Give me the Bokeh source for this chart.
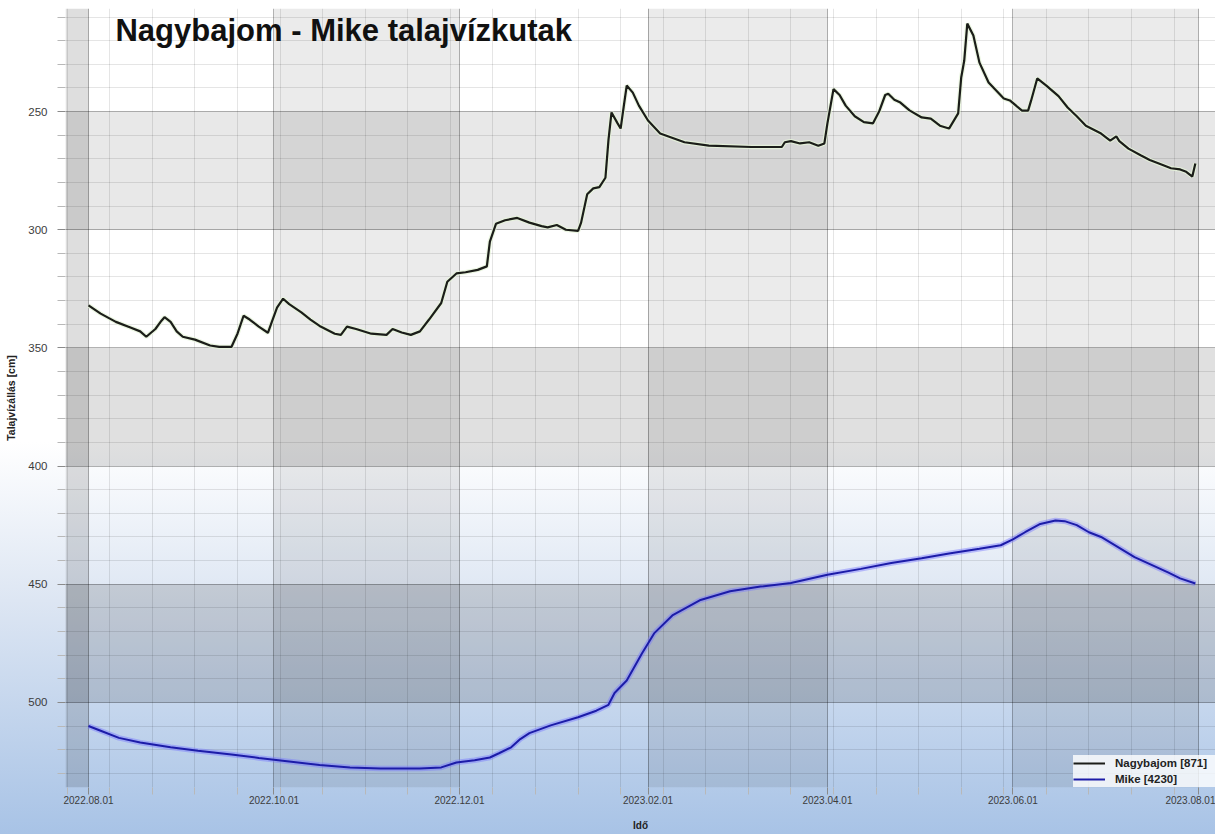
import pandas as pd
from bokeh.plotting import figure
from bokeh.models import (Range1d, FixedTicker, BoxAnnotation, Label, Legend,
                          LegendItem, DatetimeTickFormatter)
from bokeh.embed import file_html
from bokeh.resources import INLINE

title_text = "Nagybajom - Mike talajvízkutak"
y_label = "Talajvízállás [cm]"
x_label = "Idő"

nagy_name = "Nagybajom [871]"
nagy_dates = [
    "2022-08-01", "2022-08-05", "2022-08-10", "2022-08-15", "2022-08-18", "2022-08-20",
    "2022-08-23", "2022-08-25", "2022-08-26", "2022-08-28", "2022-08-30", "2022-09-01",
    "2022-09-05", "2022-09-10", "2022-09-13", "2022-09-17", "2022-09-19", "2022-09-21",
    "2022-09-23", "2022-09-26", "2022-09-29", "2022-09-30", "2022-10-02", "2022-10-04",
    "2022-10-06", "2022-10-10", "2022-10-13", "2022-10-16", "2022-10-21", "2022-10-23",
    "2022-10-25", "2022-10-28", "2022-11-02", "2022-11-07", "2022-11-09", "2022-11-12",
    "2022-11-15", "2022-11-18", "2022-11-21", "2022-11-25", "2022-11-27", "2022-11-30",
    "2022-12-03", "2022-12-07", "2022-12-10", "2022-12-11", "2022-12-13", "2022-12-16",
    "2022-12-20", "2022-12-24", "2022-12-28", "2022-12-30", "2023-01-02", "2023-01-05",
    "2023-01-09", "2023-01-10", "2023-01-12", "2023-01-14", "2023-01-16", "2023-01-18",
    "2023-01-19", "2023-01-20", "2023-01-22", "2023-01-23", "2023-01-24", "2023-01-25",
    "2023-01-27", "2023-01-29", "2023-02-01", "2023-02-05", "2023-02-13", "2023-02-21",
    "2023-03-07", "2023-03-17", "2023-03-18", "2023-03-20", "2023-03-23", "2023-03-26",
    "2023-03-29", "2023-03-31", "2023-04-01", "2023-04-03", "2023-04-05", "2023-04-07",
    "2023-04-10", "2023-04-13", "2023-04-16", "2023-04-18", "2023-04-20", "2023-04-21",
    "2023-04-23", "2023-04-25", "2023-04-28", "2023-05-02", "2023-05-05", "2023-05-08",
    "2023-05-11", "2023-05-14", "2023-05-15", "2023-05-16", "2023-05-17", "2023-05-19",
    "2023-05-21", "2023-05-24", "2023-05-29", "2023-05-31", "2023-06-04", "2023-06-06",
    "2023-06-07", "2023-06-09", "2023-06-12", "2023-06-16", "2023-06-19", "2023-06-22",
    "2023-06-25", "2023-06-30", "2023-07-03", "2023-07-05", "2023-07-06", "2023-07-09",
    "2023-07-13", "2023-07-16", "2023-07-19", "2023-07-23", "2023-07-26", "2023-07-28",
    "2023-07-30", "2023-07-31",
]
nagy_values = [
    332.0, 335.5, 339.0, 341.5, 343.0, 345.3,
    342.0, 338.5, 337.0, 339.0, 343.0, 345.3,
    346.5, 349.0, 349.6, 349.6, 344.0, 336.4,
    338.0, 341.0, 343.6, 340.0, 333.0, 329.2,
    331.5, 335.0, 338.0, 340.7, 344.0, 344.5,
    341.0, 342.0, 344.0, 344.5, 342.0, 343.5,
    344.5, 343.0, 338.0, 331.0, 322.0, 318.5,
    318.0, 317.0, 315.5, 305.0, 297.5, 296.0,
    295.0, 297.0, 298.5, 299.0, 298.0, 300.0,
    300.5, 297.0, 285.0, 282.5, 282.0, 278.0,
    262.0, 250.4, 255.0, 257.2, 248.0, 239.0,
    242.0, 247.5, 253.8, 259.3, 263.0, 264.4,
    265.0, 265.0, 263.0, 262.5, 263.5, 263.0,
    264.5, 263.5, 255.0, 240.5, 243.0, 247.5,
    252.0, 254.5, 255.0, 250.0, 243.0, 242.5,
    245.0, 246.2, 249.5, 252.5, 253.0, 256.0,
    257.2, 250.8, 235.6, 228.4, 212.8, 217.8,
    229.3, 237.7, 244.5, 245.3, 249.6, 249.6,
    245.3, 236.0, 239.0, 243.5, 248.3, 252.0,
    256.0, 259.3, 262.3, 260.5, 262.5, 265.7,
    268.5, 270.5, 272.0, 274.0, 274.5, 275.5,
    277.5, 272.0,
]

mike_name = "Mike [4230]"
mike_dates = [
    "2022-08-01", "2022-08-05", "2022-08-11", "2022-08-18", "2022-08-28", "2022-09-06",
    "2022-09-17", "2022-09-26", "2022-10-06", "2022-10-16", "2022-10-26", "2022-11-05",
    "2022-11-18", "2022-11-25", "2022-11-30", "2022-12-06", "2022-12-11", "2022-12-14",
    "2022-12-18", "2022-12-21", "2022-12-24", "2022-12-31", "2023-01-09", "2023-01-15",
    "2023-01-19", "2023-01-21", "2023-01-25", "2023-01-30", "2023-02-03", "2023-02-09",
    "2023-02-18", "2023-02-28", "2023-03-10", "2023-03-20", "2023-04-01", "2023-04-12",
    "2023-04-22", "2023-05-02", "2023-05-11", "2023-05-21", "2023-05-28", "2023-06-01",
    "2023-06-05", "2023-06-10", "2023-06-15", "2023-06-18", "2023-06-22", "2023-06-26",
    "2023-06-30", "2023-07-11", "2023-07-22", "2023-07-26", "2023-07-31",
]
mike_values = [
    510.0, 512.0, 515.0, 517.0, 519.0, 520.5,
    522.0, 523.5, 525.0, 526.5, 527.5, 528.0,
    528.0, 527.5, 525.4, 524.5, 523.3, 521.5,
    519.0, 515.5, 513.0, 509.7, 506.3, 503.5,
    501.0, 496.0, 490.7, 479.3, 470.8, 463.2,
    456.8, 453.0, 451.0, 449.5, 446.0, 443.5,
    441.0, 439.0, 437.0, 435.0, 433.5, 431.0,
    428.0, 424.5, 423.0, 423.3, 425.0, 428.0,
    430.0, 438.5, 445.0, 447.5, 449.7,
]

x_tick_dates = ["2022-08-01", "2022-10-01", "2022-12-01", "2023-02-01",
                "2023-04-01", "2023-06-01", "2023-08-01"]
x_tick_labels = ["2022.08.01", "2022.10.01", "2022.12.01", "2023.02.01",
                 "2023.04.01", "2023.06.01", "2023.08.01"]
y_ticks = [250, 300, 350, 400, 450, 500]
y_minor_ticks = [210, 220, 230, 240, 260, 270, 280, 290, 310, 320, 330, 340,
                 360, 370, 380, 390, 410, 420, 430, 440, 460, 470, 480, 490,
                 510, 520, 530]


def ms(d):
    return pd.Timestamp(d).value / 1e6


x_major = [ms(d) for d in x_tick_dates]
x_minor = [ms(d) for d in pd.date_range("2022-07-25", "2023-08-07", freq="14D")]

p = figure(width=1215, height=834, output_backend="svg", toolbar_location=None,
           x_axis_type="datetime",
           x_range=Range1d(pd.Timestamp("2022-07-24 10:30"), pd.Timestamp("2023-08-06 15:00")),
           y_range=Range1d(536.0, 206.4),
           min_border_left=65, min_border_right=0, min_border_top=8, min_border_bottom=47)
p.background_fill_alpha = 0
p.border_fill_alpha = 0
p.outline_line_color = None
p.styles = {"background": "linear-gradient(180deg, #ffffff 0%, #ffffff 53%, #dde6f3 72%, #a8c3e6 100%)"}

# axes
p.xaxis.ticker = FixedTicker(ticks=x_major, minor_ticks=x_minor)
p.xaxis.formatter = DatetimeTickFormatter(days="%Y.%m.%d", months="%Y.%m.%d", years="%Y.%m.%d")
p.xaxis.major_label_overrides = {t: lab for t, lab in zip(x_major, x_tick_labels)}
p.yaxis.ticker = FixedTicker(ticks=y_ticks, minor_ticks=y_minor_ticks)

for ax in (p.xaxis[0], p.yaxis[0]):
    ax.axis_line_color = None
    ax.major_tick_line_color = "#8a8a8a"
    ax.minor_tick_line_color = "#b8b8b8"
    ax.major_tick_in = 0
    ax.minor_tick_in = 0
    ax.major_label_text_color = "#3c3c3c"
    ax.major_label_text_font = "Liberation Sans"
    ax.axis_label_text_font = "Liberation Sans"
    ax.axis_label_text_font_style = "bold"
    ax.axis_label_text_color = "#222222"

p.xaxis.major_tick_out = 7
p.xaxis.minor_tick_out = 7
p.xaxis.major_label_standoff = 1
p.xaxis.major_label_text_font_size = "10px"
p.xaxis.axis_label = x_label
p.xaxis.axis_label_text_font_size = "10px"
p.xaxis.axis_label_standoff = 13

p.yaxis.major_tick_out = 8
p.yaxis.minor_tick_out = 8
p.yaxis.major_label_standoff = 10
p.yaxis.major_label_text_font_size = "11.5px"
p.yaxis.axis_label = y_label
p.yaxis.axis_label_text_font_size = "10.5px"
p.yaxis.axis_label_standoff = 8

# grid
p.xgrid.grid_line_color = "#000000"
p.xgrid.grid_line_alpha = 0.3
p.xgrid.minor_grid_line_color = "#000000"
p.xgrid.minor_grid_line_alpha = 0.1
p.ygrid.grid_line_color = "#000000"
p.ygrid.grid_line_alpha = 0.3
p.ygrid.minor_grid_line_color = "#000000"
p.ygrid.minor_grid_line_alpha = 0.1

# checkerboard background bands
col_bands = [(None, x_major[0], 0.13), (x_major[1], x_major[2], 0.08),
             (x_major[3], x_major[4], 0.08), (x_major[5], x_major[6], 0.08)]
for left, right, a in col_bands:
    kw = dict(right=right, fill_color="#000000", fill_alpha=a, line_color=None, level="underlay")
    if left is not None:
        kw["left"] = left
    p.add_layout(BoxAnnotation(**kw))
row_bands = [(y_ticks[0], y_ticks[1], 0.09), (y_ticks[2], y_ticks[3], 0.12),
             (y_ticks[4], y_ticks[5], 0.13)]
for top, bottom, a in row_bands:
    p.add_layout(BoxAnnotation(top=top, bottom=bottom, fill_color="#000000", fill_alpha=a,
                               line_color=None, level="underlay"))

nx = pd.to_datetime(nagy_dates)
mx = pd.to_datetime(mike_dates)

p.line(nx, nagy_values, line_color="#e6f4da", line_width=4.5, line_alpha=0.8)
r_nagy = p.line(nx, nagy_values, line_color="#1b1d19", line_width=2.2)
p.line(mx, mike_values, line_color="#7878ff", line_width=5.5, line_alpha=0.45)
r_mike = p.line(mx, mike_values, line_color="#1c1ca8", line_width=2)

legend = Legend(items=[LegendItem(label=nagy_name, renderers=[r_nagy]),
                       LegendItem(label=mike_name, renderers=[r_mike])],
                location="bottom_right")
legend.background_fill_color = "#ffffff"
legend.background_fill_alpha = 0.8
legend.border_line_color = None
legend.margin = 0
legend.padding = 9
legend.spacing = 0
legend.glyph_width = 32
legend.glyph_height = 16
legend.label_height = 16
legend.label_width = 100
legend.label_standoff = 10
legend.label_text_font = "Liberation Sans"
legend.label_text_font_style = "bold"
legend.label_text_font_size = "11.5px"
legend.label_text_color = "#222222"
p.add_layout(legend)

title = Label(x=pd.Timestamp("2022-08-09 21:00"), y=215.7, text=title_text,
              text_font="Liberation Sans", text_font_style="bold",
              text_font_size="31px", text_color="#111111",
              text_baseline="alphabetic", text_align="left")
p.add_layout(title)

open("out.html", "w").write(file_html(p, INLINE))
